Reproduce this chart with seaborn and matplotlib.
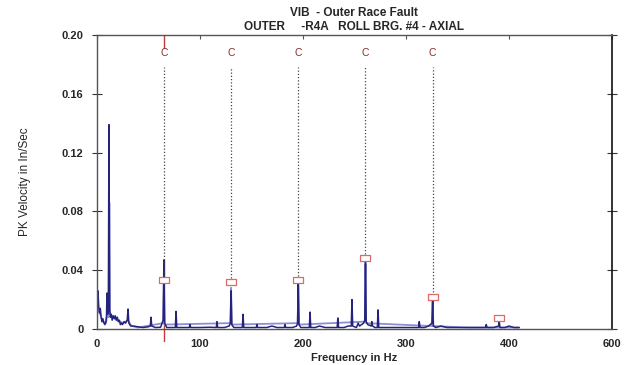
import numpy as np
import pandas as pd
import matplotlib
matplotlib.use("Agg")
import matplotlib.pyplot as plt
import seaborn as sns
from matplotlib.path import Path

# ---------------- data ----------------
dark_hz = [0, 0.6, 1.2, 2.0, 2.8, 3.5, 4.3, 5.0, 6.0, 7.0, 8.0, 9.0, 9.5, 10.0, 10.6,
           11.3, 11.9, 12.5, 13.3, 14.2, 15.0, 16.0, 17.0, 18.0, 19.0, 20.0, 21.0,
           22.0, 23.0, 24.0, 25.0, 26.5, 28.0, 29.6, 30.4, 31.2, 33.0, 36.0, 40.0,
           45.0, 50.0, 52.0, 52.7, 53.4, 57.0, 62.0, 64.5, 65.2, 65.9, 68.0, 72.0,
           76.3, 77.0, 77.7, 84.0, 89.8, 90.5, 91.2, 100.0, 110.0, 116.0, 116.7,
           117.4, 124.0, 128.5, 129.7, 130.4, 131.1, 133.0, 141.3, 142.0, 142.7,
           150.0, 154.8, 155.5, 156.2, 165.0, 170.0, 175.0, 182.0, 182.7, 183.4,
           190.0, 194.0, 194.9, 195.6, 196.3, 198.0, 206.3, 207.0, 207.7, 212.0,
           216.0, 222.0, 229.0, 233.3, 234.0, 234.7, 240.0, 244.0, 247.0, 247.7,
           248.4, 252.0, 253.7, 255.0, 259.0, 260.1, 260.8, 261.5, 263.0, 266.3,
           267.0, 267.7, 270.0, 272.3, 273.0, 273.7, 280.0, 290.0, 300.0, 306.0,
           312.3, 313.0, 313.7, 318.0, 322.0, 325.3, 326.0, 326.7, 329.0, 334.0,
           340.0, 350.0, 360.0, 370.0, 377.3, 378.0, 378.7, 385.0, 389.9, 390.6,
           391.3, 396.0, 400.0, 405.0, 410.0]
dark_amp = [0.004, 0.022, 0.026, 0.015, 0.011, 0.014, 0.008, 0.005, 0.007, 0.004,
            0.003, 0.005, 0.009, 0.0245, 0.010, 0.012, 0.139, 0.013, 0.008, 0.010,
            0.006, 0.009, 0.007, 0.009, 0.006, 0.008, 0.005, 0.006, 0.003, 0.004,
            0.003, 0.005, 0.004, 0.006, 0.0136, 0.004, 0.002, 0.002, 0.0015,
            0.001, 0.0015, 0.002, 0.008, 0.002, 0.001, 0.0012, 0.006, 0.047,
            0.004, 0.001, 0.001, 0.001, 0.012, 0.001, 0.001, 0.001, 0.003, 0.001,
            0.001, 0.0012, 0.001, 0.005, 0.001, 0.001, 0.002, 0.004, 0.026, 0.003,
            0.001, 0.001, 0.010, 0.001, 0.001, 0.001, 0.003, 0.001, 0.001, 0.002,
            0.001, 0.001, 0.003, 0.001, 0.001, 0.002, 0.004, 0.031, 0.003, 0.001,
            0.001, 0.0115, 0.001, 0.001, 0.002, 0.001, 0.001, 0.001, 0.0075, 0.001,
            0.001, 0.002, 0.002, 0.020, 0.002, 0.001, 0.004, 0.002, 0.004, 0.006,
            0.047, 0.005, 0.003, 0.002, 0.005, 0.002, 0.001, 0.001, 0.013, 0.001,
            0.001, 0.001, 0.001, 0.001, 0.001, 0.005, 0.001, 0.001, 0.002, 0.004,
            0.021, 0.002, 0.001, 0.002, 0.001, 0.001, 0.001, 0.001, 0.001, 0.003,
            0.001, 0.001, 0.002, 0.005, 0.001, 0.001, 0.002, 0.001, 0.001]

light_hz = [0, 1.0, 2.0, 4.0, 6.0, 9.0, 10.3, 11.6, 12.3, 13.0, 15.0, 18.0, 22.0,
            26.0, 30.0, 34.0, 40.0, 64.6, 65.2, 65.8, 129.8, 130.4, 131.0,
            195.0, 195.6, 196.2, 260.2, 260.8, 261.4, 325.4, 326.0, 326.6,
            360.0, 410.0]
light_amp = [0.003, 0.018, 0.012, 0.009, 0.005, 0.004, 0.010, 0.008, 0.086, 0.011,
             0.008, 0.007, 0.005, 0.004, 0.006, 0.002, 0.001, 0.004, 0.032,
             0.003, 0.004, 0.028, 0.003, 0.004, 0.030, 0.003, 0.005, 0.044,
             0.004, 0.002, 0.019, 0.002, 0.001, 0.001]

harmonic_hz = [65.2, 130.4, 195.6, 260.8, 326.0]
marker_hz = [65.2, 130.4, 195.6, 260.8, 326.0, 390.6]
marker_amp = [0.033, 0.032, 0.033, 0.048, 0.022, 0.0075]

x_ticks = [0, 100, 200, 300, 400, 500]
x_tick_labels = ["0", "100", "200", "300", "400", "600"]
y_ticks = [0, 0.04, 0.08, 0.12, 0.16, 0.20]
y_tick_labels = ["0", "0.04", "0.08", "0.12", "0.16", "0.20"]

title_1 = "VIB  - Outer Race Fault"
title_2 = "OUTER     -R4A   ROLL BRG. #4 - AXIAL"
x_label = "Frequency in Hz"
y_label = "PK Velocity in In/Sec"

# ---------------- drawing ----------------
sns.set_style("white")
plt.rcParams["font.family"] = ["Liberation Sans", "DejaVu Sans"]

W, H = 628, 365
fig = plt.figure(figsize=(W / 100, H / 100), dpi=100)
ax = fig.add_axes([96.7 / W, 1 - 329 / H, (612 - 96.7) / W, (329 - 35) / H])

light_df = pd.DataFrame({"hz": light_hz, "amp": light_amp})
dark_df = pd.DataFrame({"hz": dark_hz, "amp": dark_amp})
sns.lineplot(data=light_df, x="hz", y="amp", ax=ax, color="#8e8ed6",
             linewidth=1.3, sort=True, estimator=None)
sns.lineplot(data=dark_df, x="hz", y="amp", ax=ax, color="#24247c",
             linewidth=1.1, sort=True, estimator=None)

# harmonic cursors (dotted) and C labels
for f, a in zip(harmonic_hz, marker_amp):
    ax.vlines(f, a + 0.003, 0.178, colors="#444444", linestyles=(0, (1, 1.6)),
              linewidth=0.9)
    ax.text(f, 0.188, "C", ha="center", va="center", color="#8a2a2a",
            fontsize=7.5)

# red cursor at first harmonic
cursor = harmonic_hz[0]
ax.plot([cursor, cursor], [-0.008, dark_amp[dark_hz.index(cursor)]],
        color="#c23a3a", linewidth=1.0, clip_on=False, zorder=1)
ax.plot([cursor, cursor], [0.191, 0.2], color="#c23a3a", linewidth=1.0,
        clip_on=False)

# peak markers: hollow boxes
box = Path([(-1.6, -0.9), (1.6, -0.9), (1.6, 0.9), (-1.6, 0.9), (-1.6, -0.9)],
           [Path.MOVETO, Path.LINETO, Path.LINETO, Path.LINETO, Path.CLOSEPOLY])
mk_df = pd.DataFrame({"hz": marker_hz, "amp": marker_amp})
sns.scatterplot(data=mk_df, x="hz", y="amp", ax=ax, marker=box, s=50,
                facecolor="white", edgecolor="#e06868", linewidth=0.9,
                zorder=5)

ax.set_xlim(0, 500)
ax.set_ylim(0, 0.20)
ax.set_xticks(x_ticks)
ax.set_xticklabels(x_tick_labels, fontsize=8, fontweight="bold")
ax.set_yticks(y_ticks)
ax.set_yticklabels(y_tick_labels, fontsize=8, fontweight="bold")
ax.tick_params(axis="x", bottom=False, top=True, direction="in", length=3,
               color="#555555", pad=7)
ax.tick_params(axis="y", left=True, right=True, direction="inout", length=7,
               color="#333333", pad=6)
ax.set_xlabel(x_label, fontsize=8, fontweight="bold", labelpad=3)
ax.set_ylabel(y_label, fontsize=8.5, labelpad=22)

for side in ["left", "bottom", "top"]:
    ax.spines[side].set_color("#555555")
    ax.spines[side].set_linewidth(1.0)
ax.spines["right"].set_color("#111111")
ax.spines["right"].set_linewidth(1.2)

fig.text(354 / W, 1 - 13 / H, title_1, ha="center", va="center",
         fontsize=8.5, fontweight="bold")
fig.text(354 / W, 1 - 27 / H, title_2, ha="center", va="center",
         fontsize=8.5, fontweight="bold")

fig.savefig("out.png", dpi=100, facecolor="white")
